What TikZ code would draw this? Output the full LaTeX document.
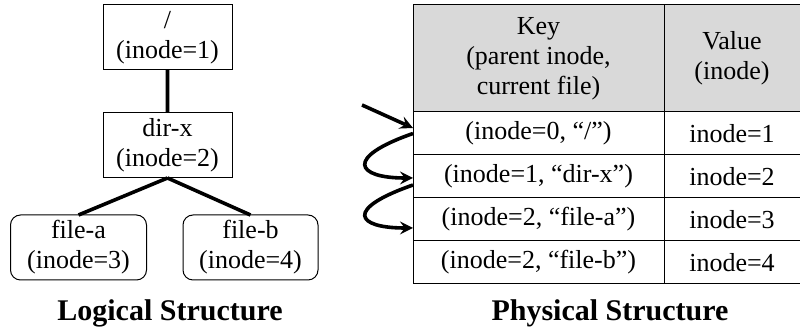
\documentclass[tikz,border=0pt]{standalone}
\usepackage{fontspec}
\setmainfont{Liberation Serif}
\usetikzlibrary{positioning}
\begin{document}
\begin{tikzpicture}[x=1pt,y=1pt,
        every node/.style={font=\fontsize{13}{15}\selectfont,
           align=center, inner sep=0pt, outer sep=0pt},
        dir box/.style={draw, line width=0.5pt,
           minimum width=64.5pt, minimum height=32.5pt},
        file box/.style={dir box, rounded corners=5pt, minimum width=68pt},
        tree line/.style={line width=1.8pt},
        key cell/.style={draw, line width=0.5pt,
           minimum width=125.5pt, minimum height=21.5pt},
        value cell/.style={key cell, minimum width=68pt},
        head cell/.style={fill=black!15, minimum height=53.5pt},
        lookup arrow/.style={-stealth, line width=1.8pt},
        caption/.style={font=\fontsize{15}{18}\selectfont\bfseries},
    ]
    \useasboundingbox (0,0) rectangle (400,165.5);

    % logical view
    \node[dir box] (root) at (83.75,146.75) {/\\(inode=1)};
    \node[dir box, below=21.5pt of root] (dirx) {dir-x\\(inode=2)};
    \node[file box] (filea) at (39.25,41.75) {file-a\\(inode=3)};
    \node[file box, minimum width=67.5pt] (fileb) at (125.25,41.75) {file-b\\(inode=4)};
    \draw[tree line]
        (root) -- (dirx)
        (dirx.south) -- (filea.north)
        (dirx.south) -- (fileb.north)
        ;
    \node[caption] (logical) at (85,9) {Logical Structure};

    % physical view
    \node[key cell, head cell, anchor=north west] (khead) at (206.5,163)
        {Key\\(parent inode,\\current file)};
    \node[value cell, head cell, right=0pt of khead] (vhead) {Value\\(inode)};
    \node[key cell, below=0pt of khead] (k1) {(inode=0, “/”)};
    \node[value cell, below=0pt of vhead] (v1) {inode=1};
    \node[key cell, below=0pt of k1] (k2) {(inode=1, “dir-x”)};
    \node[value cell, below=0pt of v1] (v2) {inode=2};
    \node[key cell, below=0pt of k2] (k3) {(inode=2, “file-a”)};
    \node[value cell, below=0pt of v2] (v3) {inode=3};
    \node[key cell, below=0pt of k3] (k4) {(inode=2, “file-b”)};
    \node[value cell, below=0pt of v3] (v4) {inode=4};
    \node[caption] (physical) at (305,9) {Physical Structure};

    % lookup path
    \coordinate (entry) at (181,113);
    \draw[lookup arrow] (entry) -- ([yshift=2.75pt]k1.west);
    \draw[lookup arrow]
        (k1.west) .. controls +(-34.5,-12) and +(-28.5,0) .. ([yshift=-0.75pt]k2.west);
    \draw[lookup arrow]
        ([yshift=-4.25pt]k2.west) .. controls +(-34.5,-12) and +(-28.5,0) .. ([yshift=-4.25pt]k3.west);
\end{tikzpicture}
\end{document}
